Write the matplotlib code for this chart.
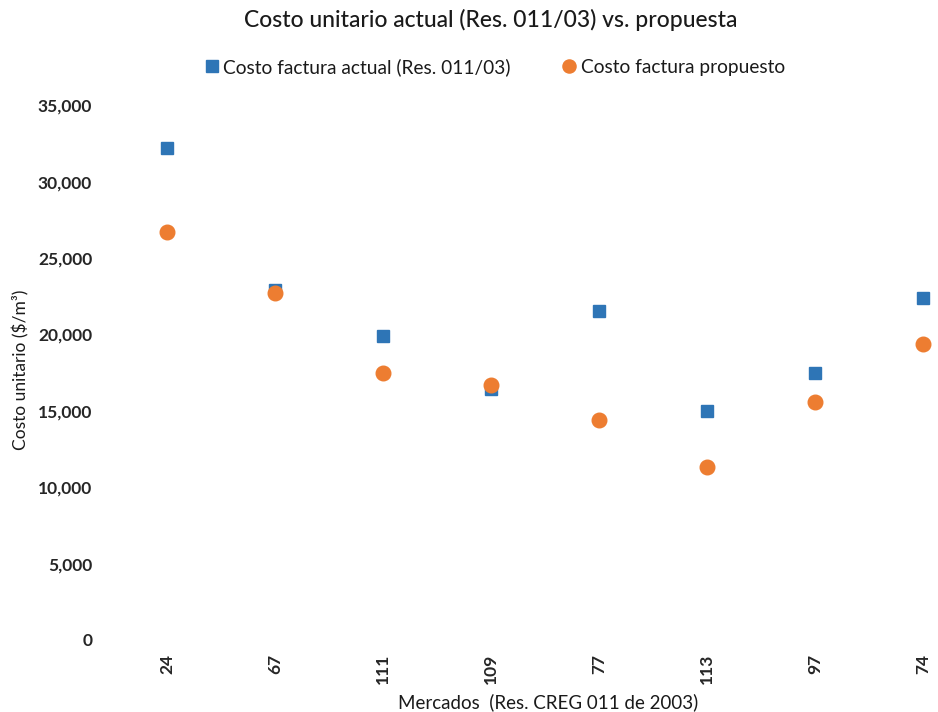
import matplotlib
matplotlib.use("Agg")
import matplotlib.pyplot as plt
from matplotlib.ticker import FuncFormatter

plt.rcParams['font.family'] = ['Lato', 'DejaVu Sans']

mercados = ["24", "67", "111", "109", "77", "113", "97", "74"]
actual = [32200, 22900, 19900, 16400, 21500, 15000, 17500, 22400]
propuesto = [26700, 22700, 17500, 16700, 14400, 11300, 15600, 19400]

W, H = 938, 712
fig = plt.figure(figsize=(W / 100, H / 100), dpi=100)
ax_left = 113 / W
ax_bottom = 1 - 640 / H
ymax = 37500
px_per_unit = 76.4 / 5000
ax_h = ymax * px_per_unit / H
ax = fig.add_axes([ax_left, ax_bottom, 1 - ax_left, ax_h])

x = list(range(len(mercados)))
ax.plot(x, actual, linestyle='none', marker='s', markersize=9, color='#2E75B6',
        label='Costo factura actual (Res. 011/03)')
ax.plot(x, propuesto, linestyle='none', marker='o', markersize=10.5, color='#ED7D31',
        label='Costo factura propuesto')

ax.set_xlim(-0.5, -0.5 + (W - 113) / 108)
ax.set_ylim(0, ymax)
ax.set_yticks(range(0, 35001, 5000))
ax.yaxis.set_major_formatter(FuncFormatter(lambda v, p: f"{int(v):,}"))
ax.set_xticks(x)
ax.set_xticklabels(mercados, rotation=90)
for s in ax.spines.values():
    s.set_visible(False)
ax.tick_params(axis='both', length=0, labelsize=12.5, colors='#262626')
for lab in ax.get_yticklabels() + ax.get_xticklabels():
    lab.set_fontweight('bold')
ax.tick_params(axis='y', pad=15)
ax.tick_params(axis='x', pad=10)

ax.set_ylabel('Costo unitario ($/m³)', fontsize=12.5, color='#1a1a1a')
ax.yaxis.set_label_coords(-84 / (W - 113), (640 - 370) / (ax_h * H))
fig.text(548 / W, 1 - 702 / H, 'Mercados  (Res. CREG 011 de 2003)', ha='center', va='center',
         fontsize=13.5, color='#1a1a1a')
fig.text(491 / W, 1 - 20 / H, 'Costo unitario actual (Res. 011/03) vs. propuesta', ha='center',
         va='center', fontsize=16.5, fontweight='medium', color='#1a1a1a')

leg = fig.legend(loc='center', bbox_to_anchor=(494 / W, 1 - 67 / H), ncol=2, frameon=False,
                 fontsize=13.8, handletextpad=0.15, columnspacing=2.6, handlelength=0.9,
                 markerscale=0.9)
for t in leg.get_texts():
    t.set_color('#1a1a1a')

fig.savefig('out.png', dpi=100, facecolor='white')
